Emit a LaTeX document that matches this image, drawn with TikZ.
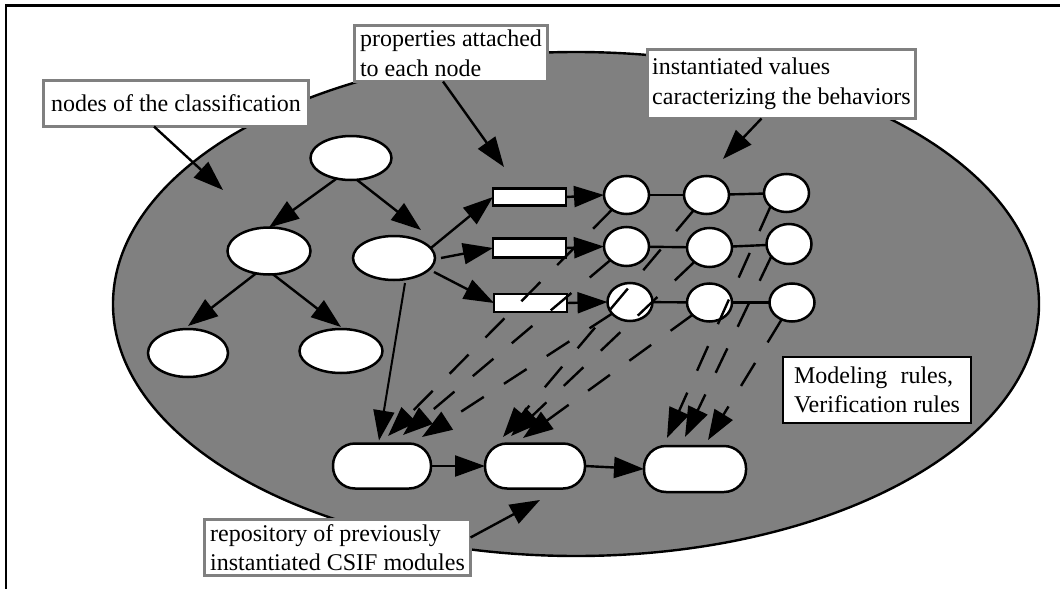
\documentclass[tikz,border=0pt]{standalone}
\usepackage{fontspec}
\setmainfont{Liberation Serif}
\usetikzlibrary{shapes.geometric,arrows.meta}
\definecolor{shade}{gray}{0.5}
\begin{document}
\begin{tikzpicture}[x=1pt,y=-1pt,
  every node/.style={inner sep=0pt, outer sep=0pt},
  oval/.style={ellipse, draw=black, fill=white, line width=2.5pt},
  pill/.style={rectangle, rounded corners=22pt, draw=black, fill=white, line width=2.5pt, minimum height=45pt},
  prop/.style={rectangle, draw=black, fill=white, line width=2.5pt, minimum width=73pt},
  val/.style={ellipse, draw=black, fill=white, line width=2.5pt, minimum width=45pt, minimum height=38pt},
  arr/.style={line width=2.4pt, -{Triangle[length=30pt,width=21pt]}},
  darr/.style={arr, dash pattern=on 27pt off 24pt},
  link/.style={line width=2.4pt},
  labbox/.style={rectangle, draw=shade, fill=white, line width=3.2pt, align=left, font=\fontsize{24}{29.5}\selectfont},
  rulebox/.style={labbox, draw=black, line width=2.4pt}]
\useasboundingbox (0,0) rectangle (1060,589);
% frame (cropped)
\draw[line width=2.8pt] (1060,5.5) -- (6,5.5) -- (6,589);
% big region
\draw[fill=shade, line width=2.4pt] (576,304) ellipse [x radius=463, y radius=252];

% classification tree
\node[oval, minimum width=81pt, minimum height=44pt] (T) at (351,158) {};
\node[oval, minimum width=83pt, minimum height=47pt] (L) at (269,251) {};
\node[oval, minimum width=82pt, minimum height=44pt] (P) at (394,258) {};
\node[oval, minimum width=80pt, minimum height=48pt] (BL) at (188,353) {};
\node[oval, minimum width=83pt, minimum height=44pt] (BR) at (341,351) {};

% properties
\node[prop, minimum height=17pt] (R1) at (529.5,197) {};
\node[prop, minimum height=19pt] (R2) at (529.5,248) {};
\node[prop, minimum height=18pt] (R3) at (530.5,303) {};

% values
\node[val] (C11) at (626.5,195) {};
\node[val] (C12) at (706.5,195) {};
\node[val] (C13) at (786.5,193) {};
\node[val, minimum height=39pt] (C21) at (626.5,246.5) {};
\node[val, minimum height=39pt] (C22) at (709.5,247.5) {};
\node[val, minimum height=40pt] (C23) at (789,244) {};
\node[val] (C31) at (630,302) {};
\node[val] (C32) at (709.5,302.5) {};
\node[val] (C33) at (792,302.5) {};

% modules
\node[pill, minimum width=98pt] (M1) at (382,466) {};
\node[pill, minimum width=100pt] (M2) at (535,466) {};
\node[pill, minimum width=102pt, minimum height=46pt] (M3) at (695,469) {};

% named free ends
\coordinate (tP) at (421,230);
\coordinate (n1) at (223,190);
\coordinate (n2) at (504,167);
\coordinate (n3) at (723,159);
\coordinate (n5) at (540,500);
\coordinate (d11) at (388,436);
\coordinate (d21) at (403,435);
\coordinate (d31) at (422,437);
\coordinate (d12) at (503,437);
\coordinate (d22) at (511,436);
\coordinate (d32) at (523,438);
\coordinate (d13) at (667,438);
\coordinate (d23) at (685,437);
\coordinate (d33) at (708,440);

% tree connectors
\draw[arr] (T.-125) -- (L.north);
\draw[arr] (T.-75) -- (tP);
\draw[arr] (L.-120) -- ([yshift=3pt]BL.north);
\draw[arr] (L.-80) -- ([yshift=2pt]BR.north);
\draw[arr] (P.15) -- (R1.west);
\draw[arr] ([xshift=6pt]P.east) -- (R2.west);
\draw[arr] ([xshift=40pt,yshift=-14pt]P.center) -- (R3.west);
\draw[arr, line width=2pt] ([xshift=11pt,yshift=-25pt]P.center) -- ([xshift=-3pt,yshift=3pt]M1.north);

% properties to values
\draw[arr] (R1.east) -- (C11.west);
\draw[arr] (R2.east) -- (C21.west);
\draw[arr] (R3.east) -- (C31.west);
\draw[link] (C11) -- (C12);
\draw[link] (C12) -- (C13);
\draw[link] (C21) -- (C22);
\draw[link] (C22) -- (C23);
\draw[link] (C31) -- (C32);
\draw[link] (C32) -- (C33);

% modules chain
\draw[arr] (M1.east) -- (M2.west);
\draw[arr] (M2.east) -- (M3.west);

% dashed rules
\draw[darr] (C11) -- (d11);
\draw[darr] (C21) -- (d21);
\draw[darr] (C31) -- (d31);
\draw[darr] (C12) -- (d12);
\draw[darr] (C22) -- (d22);
\draw[darr] (C32) -- (d32);
\draw[darr] (C13.-140) -- (d13);
\draw[darr] (C23.-145) -- (d23);
\draw[darr] (C33) -- (d33);

% labels
\node[labbox, minimum width=265pt, minimum height=46pt] (lab1) at (176,103.5) {nodes of the classification};
\node[labbox, minimum width=193pt, minimum height=56pt] (lab2) at (451,53.5) {properties attached\\to each node};
\node[labbox, minimum width=268pt, minimum height=69pt] (lab3) at (781.5,84) {instantiated values\\caracterizing the behaviors};
\node[rulebox, minimum width=188pt, minimum height=66pt] (lab4) at (877,390) {Modeling\hspace{0.55em}rules,\\Verification rules};
\node[labbox, minimum width=266pt, minimum height=56pt] (lab5) at (337.5,547.5) {repository of previously\\instantiated CSIF modules};

\draw[arr] ([xshift=-22pt]lab1.south) -- (n1);
\draw[arr] ([xshift=-8pt]lab2.south) -- (n2);
\draw[arr] ([xshift=-20pt]lab3.south) -- (n3);
\draw[arr] ([yshift=10pt]lab5.east) -- (n5);
\end{tikzpicture}
\end{document}
